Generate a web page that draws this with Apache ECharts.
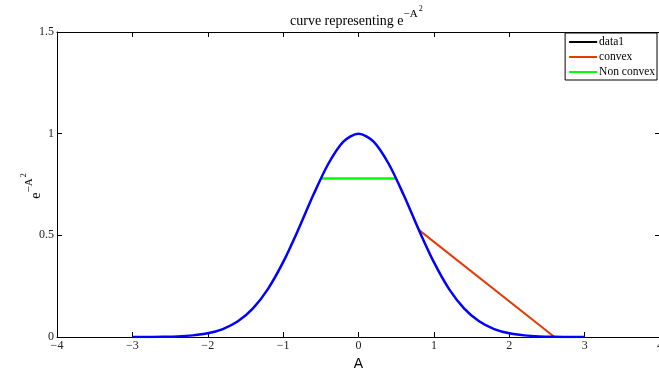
<!DOCTYPE html>
<html><head><meta charset="utf-8">
<script src="https://cdn.jsdelivr.net/npm/echarts@6/dist/echarts.min.js"></script>
<style>html,body{margin:0;padding:0;background:#fff}#c{width:659px;height:371px}</style>
</head><body><div id="c"></div>
<script>
// Curve samples (A, e^{-A^2})
var curveA = [-3,-2.8,-2.6,-2.4,-2.2,-2,-1.8,-1.6,-1.4,-1.2,-1,-0.8,-0.6,-0.4,-0.2,0,0.2,0.4,0.6,0.8,1,1.2,1.4,1.6,1.8,2,2.2,2.4,2.6,2.8,3];
var curveY = [0.000,0.000,0.001,0.003,0.008,0.018,0.039,0.077,0.141,0.237,0.368,0.527,0.698,0.852,0.961,1.000,0.961,0.852,0.698,0.527,0.368,0.237,0.141,0.077,0.039,0.018,0.008,0.003,0.001,0.000,0.000];
var convexA = [0.8, 2.6];
var convexY = [0.527, 0.0];
var nonConvexA = [-0.5, 0.5];
var nonConvexY = [0.779, 0.779];
var legendNames = ['data1','convex','Non convex'];
var xTicks = [-4,-3,-2,-1,0,1,2,3,4];
var yTicks = [0,0.5,1,1.5];

function pairs(a,b){return a.map(function(v,i){return [v,b[i]];});}
var serif = '"Liberation Serif","DejaVu Serif",serif';
var chart = echarts.init(document.getElementById('c'));
var fmt = function(v){return String(v).replace('-','\u2212');};
chart.setOption({
  animation:false,
  title:{
    text:'{a|curve representing e}{b|\u2212A}{c|2}',
    left:285, top:1,
    textStyle:{fontWeight:'normal',rich:{
      a:{fontFamily:serif,fontSize:14,fontWeight:'normal',color:'#000',verticalAlign:'bottom',lineHeight:22},
      b:{fontFamily:serif,fontSize:11,fontWeight:'normal',color:'#000',verticalAlign:'bottom',padding:[0,0,8,0],lineHeight:22},
      c:{fontFamily:serif,fontSize:8,fontWeight:'normal',color:'#000',verticalAlign:'bottom',padding:[0,0,15,1],lineHeight:22}
    }}
  },
  grid:{left:57, top:32, width:603, height:305, containLabel:false, outerBoundsMode:'none'},
  legend:{
    data:legendNames, orient:'vertical', right:2, top:33,
    backgroundColor:'#fff', borderColor:'#000', borderWidth:1, borderRadius:0,
    padding:[3,2,2,4], itemGap:3, itemWidth:28, itemHeight:2, icon:'rect',
    textStyle:{fontFamily:serif,fontSize:11.5,color:'#000',padding:[0,0,0,-3]}
  },
  xAxis:[{
    type:'value', min:-4, max:4, interval:1, position:'bottom',
    name:'A', nameLocation:'middle', nameGap:12,
    nameTextStyle:{fontFamily:'"Liberation Sans",Arial,sans-serif',fontSize:14,color:'#000'},
    axisLine:{onZero:false,lineStyle:{color:'#000',width:1}},
    axisTick:{inside:true,length:5,lineStyle:{color:'#000'}},
    axisLabel:{formatter:fmt,fontFamily:serif,fontSize:12,color:'#222',margin:3,showMaxLabel:true},
    splitLine:{show:false}
  },{
    type:'value', min:-4, max:4, interval:1, position:'top',
    axisLine:{show:true,onZero:false,lineStyle:{color:'#000',width:1}},
    axisTick:{inside:true,length:5,lineStyle:{color:'#000'}},
    axisLabel:{show:false}, splitLine:{show:false}
  }],
  yAxis:[{
    type:'value', min:0, max:1.5, interval:0.5, position:'left',
    axisLine:{show:true,onZero:false,lineStyle:{color:'#000',width:1}},
    axisTick:{show:true,inside:true,length:5,lineStyle:{color:'#000'}},
    axisLabel:{formatter:fmt,fontFamily:serif,fontSize:12,color:'#222',margin:3},
    splitLine:{show:false}
  },{
    type:'value', min:0, max:1.5, interval:0.5, position:'right',
    axisLine:{show:true,onZero:false,lineStyle:{color:'#000',width:1}},
    axisTick:{show:true,inside:true,length:5,lineStyle:{color:'#000'}},
    axisLabel:{show:false}, splitLine:{show:false}
  }],
  graphic:[{
    type:'text', x:32, y:186, rotation:Math.PI/2,
    style:{
      text:'{a|e}{b|\u2212A}{c|2}', align:'center', verticalAlign:'middle',
      rich:{
        a:{fontFamily:serif,fontSize:14,fill:'#000',verticalAlign:'bottom',lineHeight:22},
        b:{fontFamily:serif,fontSize:11,fill:'#000',verticalAlign:'bottom',padding:[0,0,8,0],lineHeight:22},
        c:{fontFamily:serif,fontSize:8,fill:'#000',verticalAlign:'bottom',padding:[0,0,15,1],lineHeight:22}
      }
    }
  }],
  series:[
    {name:'curve', type:'line', data:pairs(curveA,curveY), smooth:0.3, showSymbol:false,
     lineStyle:{color:'#0000ff',width:2.5}, itemStyle:{color:'#0000ff'}, z:3},
    {name:'data1', type:'line', data:[], showSymbol:false, lineStyle:{color:'#000',width:1}, itemStyle:{color:'#000'}},
    {name:'convex', type:'line', data:pairs(convexA,convexY), showSymbol:false,
     lineStyle:{color:'#e63a05',width:2}, itemStyle:{color:'#e63a05'}, z:2},
    {name:'Non convex', type:'line', data:pairs(nonConvexA,nonConvexY), showSymbol:false,
     lineStyle:{color:'#00ff00',width:2.5}, itemStyle:{color:'#00ff00'}, z:2}
  ]
});
</script></body></html>
